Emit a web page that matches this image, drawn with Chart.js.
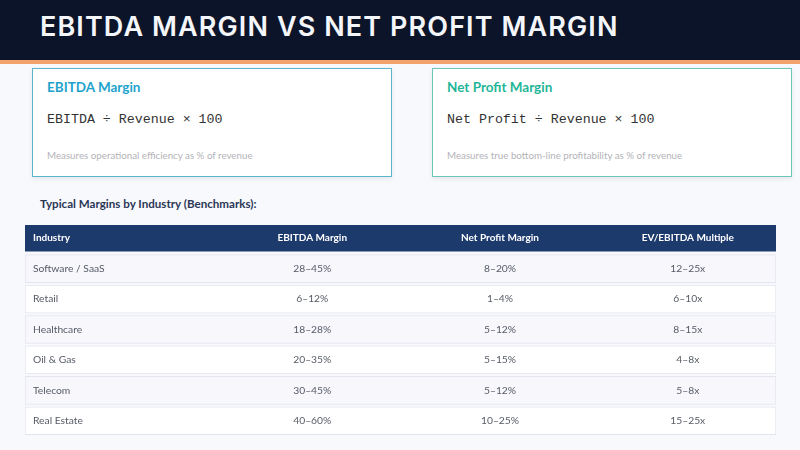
<!DOCTYPE html>
<html>
<head>
<meta charset="utf-8">
<script src="https://cdn.jsdelivr.net/npm/chart.js@4.4.1/dist/chart.umd.min.js"></script>
<style>
html,body{margin:0;padding:0;}
body{width:800px;height:450px;background:#f8f9fc;position:relative;overflow:hidden;font-family:Lato,"Open Sans",sans-serif;}
.top{position:absolute;left:0;top:0;width:800px;height:60px;background:#0c1429;}
.top h1{margin:0;position:absolute;left:40px;top:10px;font-family:Inter,sans-serif;font-weight:600;font-size:27px;letter-spacing:1.1px;color:#f4f6fa;}
.stripe{position:absolute;left:0;top:60px;width:800px;height:4px;background:#f2a26c;}
.card{position:absolute;top:68px;width:358px;height:107px;background:#fff;box-shadow:0 2px 5px rgba(0,0,0,0.08);}
.card .t{position:absolute;left:14px;top:10px;font-weight:700;font-size:13.5px;}
.card .f{position:absolute;left:14px;top:43px;font-family:"Liberation Mono","DejaVu Sans Mono",monospace;font-size:13.3px;color:#333;}
.card .d{position:absolute;left:14px;top:80px;font-size:9.75px;color:#b3b3b8;}
#c1{left:32px;border:1.5px solid #5ab7cb;}
#c1 .t{color:#1fa3cd;}
#c2{left:432px;border:1.5px solid #6dc7b9;}
#c2 .t{color:#1fb598;}
.sub{position:absolute;left:40px;top:197px;font-weight:700;font-size:11.6px;color:#2a3656;}
#tbl{position:absolute;left:25px;top:223px;width:751px;height:213px;}
</style>
</head>
<body>
<div class="top"><h1>EBITDA MARGIN VS NET PROFIT MARGIN</h1></div>
<div class="stripe"></div>
<div class="card" id="c1">
<div class="t">EBITDA Margin</div>
<div class="f">EBITDA ÷ Revenue × 100</div>
<div class="d">Measures operational efficiency as % of revenue</div>
</div>
<div class="card" id="c2">
<div class="t">Net Profit Margin</div>
<div class="f">Net Profit ÷ Revenue × 100</div>
<div class="d">Measures true bottom-line profitability as % of revenue</div>
</div>
<div class="sub">Typical Margins by Industry (Benchmarks):</div>
<div id="tbl"><canvas id="chart"></canvas></div>
<script>
// ================= TABLE DATA =================
const columns=["Industry","EBITDA Margin","Net Profit Margin","EV/EBITDA Multiple"];
const industries=["Software / SaaS","Retail","Healthcare","Oil & Gas","Telecom","Real Estate"];
const ebitdaMargin=["28–45%","6–12%","18–28%","20–35%","30–45%","40–60%"];
const netMargin=["8–20%","1–4%","5–12%","5–15%","5–12%","10–25%"];
const evMultiple=["12–25x","6–10x","8–15x","4–8x","5–8x","15–25x"];

const rowLabels=[columns[0]].concat(industries);

// ================= CELL TEXT PLUGIN =================
const cellText={
id:"cellText",
afterDatasetsDraw(chart){
let ctx=chart.ctx;
let x=chart.scales.x, y=chart.scales.y;
ctx.save();
ctx.textBaseline="middle";
// header
ctx.fillStyle="#ffffff";
ctx.font="bold 10px Lato, 'Open Sans', sans-serif";
let hy=y.getPixelForValue(0);
columns.forEach((c,j)=>{
if(j===0){ctx.textAlign="left";ctx.fillText(c,x.getPixelForValue(0)+8,hy);}
else{ctx.textAlign="center";ctx.fillText(c,x.getPixelForValue(j+0.53),hy);}
});
// body rows
ctx.fillStyle="#565b66";
ctx.font="10.3px Lato, 'Open Sans', sans-serif";
industries.forEach((name,i)=>{
let ry=y.getPixelForValue(i+1);
let cells=[name,ebitdaMargin[i],netMargin[i],evMultiple[i]];
cells.forEach((v,j)=>{
if(j===0){ctx.textAlign="left";ctx.fillText(v,x.getPixelForValue(0)+8,ry);}
else{ctx.textAlign="center";ctx.fillText(v,x.getPixelForValue(j+0.53),ry);}
});
});
ctx.restore();
}
};

// ================= CHART =================
let ctx=document.getElementById("chart").getContext("2d");
new Chart(ctx,{
type:"bar",
data:{
labels:rowLabels,
datasets:[
{
label:"header",
data:[{y:columns[0],x:[0,4]}],
backgroundColor:"#1d3a6d",
borderWidth:0,
barThickness:26,
grouped:false
},
{
label:"rows",
data:industries.map(n=>({y:n,x:[0,4]})),
backgroundColor:industries.map((n,i)=>i%2===0?"#f7f7fc":"#ffffff"),
borderColor:"#e3e5ee",
borderWidth:1,
borderSkipped:false,
barThickness:28,
grouped:false
}
]
},
options:{
indexAxis:"y",
responsive:true,
maintainAspectRatio:false,
animation:false,
layout:{padding:0},
plugins:{legend:{display:false},tooltip:{enabled:false}},
scales:{
x:{type:"linear",min:0,max:4,display:false},
y:{type:"category",display:false,offset:true}
}
},
plugins:[cellText]
});
</script>
</body>
</html>
